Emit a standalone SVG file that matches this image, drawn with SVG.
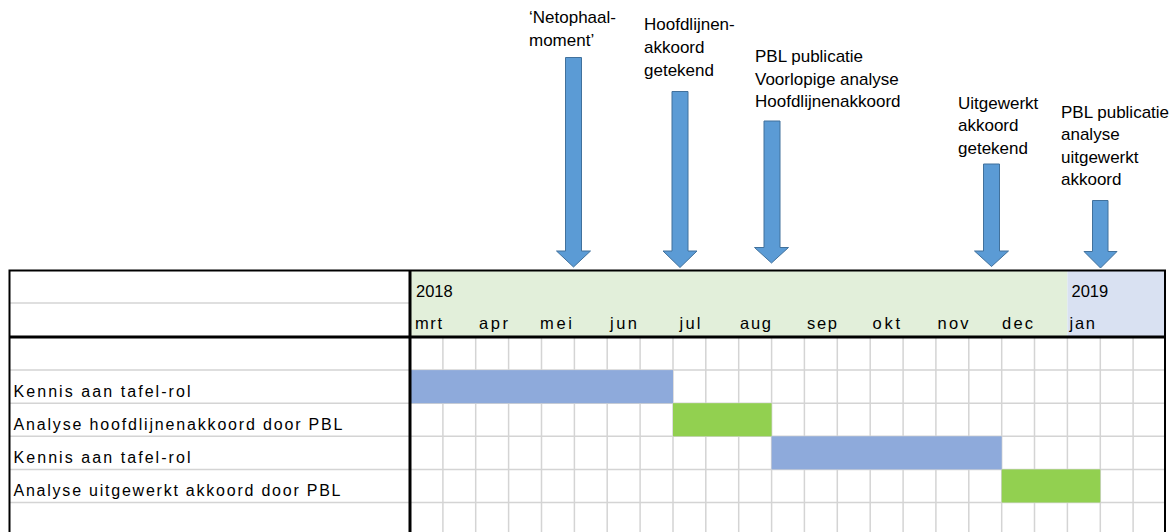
<svg xmlns="http://www.w3.org/2000/svg" width="1173" height="532" viewBox="0 0 1173 532">
<style>
.lbl{font-family:"Liberation Sans",Arial,sans-serif;font-size:17px;fill:#000}
.row{font-family:"Liberation Sans",Arial,sans-serif;font-size:16px;fill:#000}
.hdr{font-family:"Liberation Sans",Arial,sans-serif;font-size:16.5px;fill:#000}
.grid{stroke:#d4d4d4;stroke-width:1.5;fill:none}
.arrow{fill:#5b9bd5;stroke:#41719c;stroke-width:1}
.blue{fill:#8eaadb}
.green{fill:#92d050}
</style>
<rect width="1173" height="532" fill="#fff"/>
<g id="header">
<rect x="410" y="270" width="657.4" height="67" fill="#e2efda"/>
<rect x="1067.4" y="270" width="97.6" height="67" fill="#d9e1f2"/>
<line class="grid" x1="9" y1="303" x2="410" y2="303"/>
<text class="hdr" x="416" y="297">2018</text>
<text class="hdr" x="1071.5" y="297">2019</text>
<text class="hdr" x="415" y="329" textLength="27" lengthAdjust="spacing">mrt</text>
<text class="hdr" x="479" y="329" textLength="29" lengthAdjust="spacing">apr</text>
<text class="hdr" x="540" y="329" textLength="32" lengthAdjust="spacing">mei</text>
<text class="hdr" x="610" y="329" textLength="27" lengthAdjust="spacing">jun</text>
<text class="hdr" x="679.5" y="329" textLength="21" lengthAdjust="spacing">jul</text>
<text class="hdr" x="740" y="329" textLength="31" lengthAdjust="spacing">aug</text>
<text class="hdr" x="807" y="329" textLength="30" lengthAdjust="spacing">sep</text>
<text class="hdr" x="872.5" y="329" textLength="27.5" lengthAdjust="spacing">okt</text>
<text class="hdr" x="937.5" y="329" textLength="31" lengthAdjust="spacing">nov</text>
<text class="hdr" x="1002" y="329" textLength="31" lengthAdjust="spacing">dec</text>
<text class="hdr" x="1069.5" y="329" textLength="25.5" lengthAdjust="spacing">jan</text>
</g>
<g id="grid">
<path class="grid" d="M9 370.1H1165M9 403.2H1165M9 436.3H1165M9 469.4H1165M9 502.5H1165"/>
<path class="grid" d="M442.9 337V532M475.7 337V532M508.6 337V532M541.5 337V532M574.4 337V532M607.2 337V532M640.1 337V532M673 337V532M705.8 337V532M738.7 337V532M771.6 337V532M804.4 337V532M837.3 337V532M870.2 337V532M903.1 337V532M935.9 337V532M968.8 337V532M1001.7 337V532M1034.5 337V532M1067.4 337V532M1100.3 337V532M1133.1 337V532"/>
</g>
<g id="bar-kennis-1"><rect class="blue" x="410" y="370.1" width="263" height="33.1"/></g>
<g id="bar-analyse-hoofdlijnen"><rect class="green" x="673" y="403.2" width="98.6" height="33.1"/></g>
<g id="bar-kennis-2"><rect class="blue" x="771.6" y="436.3" width="230.1" height="33.1"/></g>
<g id="bar-analyse-uitgewerkt"><rect class="green" x="1001.7" y="469.4" width="98.6" height="33.1"/></g>
<g id="row-labels">
<text class="row" x="13.5" y="397" textLength="177" lengthAdjust="spacing">Kennis aan tafel-rol</text>
<text class="row" x="13.5" y="430" textLength="329" lengthAdjust="spacing">Analyse hoofdlijnenakkoord door PBL</text>
<text class="row" x="13.5" y="463" textLength="177" lengthAdjust="spacing">Kennis aan tafel-rol</text>
<text class="row" x="13.5" y="496" textLength="327" lengthAdjust="spacing">Analyse uitgewerkt akkoord door PBL</text>
</g>
<g id="borders" fill="none" stroke="#000">
<path d="M9.5 532V270.5H1165V532" stroke-width="2"/>
<line x1="9" y1="337" x2="1166" y2="337" stroke-width="3"/>
<line x1="410" y1="270" x2="410" y2="532" stroke-width="3"/>
</g>
<g id="connectors">
<path class="arrow" d="M565.5 57.5H581.5V251H590.5L573.5 267L556.5 251H565.5Z"/>
<path class="arrow" d="M672 91.5H688V251H697L680 267.5L663 251H672Z"/>
<path class="arrow" d="M764 121H780V247.5H788.5L771.5 263L754.5 247.5H764Z"/>
<path class="arrow" d="M983.5 164H999.5V251H1008.5L991.5 266.5L974.5 251H983.5Z"/>
<path class="arrow" d="M1092.5 200.5H1108V251.5H1117L1100.5 268L1084 251.5H1092.5Z"/>
</g>
<g id="event-netophaal">
<text class="lbl" x="529" y="23">‘Netophaal-</text>
<text class="lbl" x="529" y="46">moment’</text>
</g>
<g id="event-hoofdlijnen">
<text class="lbl" x="644" y="30">Hoofdlijnen-</text>
<text class="lbl" x="644" y="53">akkoord</text>
<text class="lbl" x="644" y="76">getekend</text>
</g>
<g id="event-pbl-voorlopig">
<text class="lbl" x="755" y="62">PBL publicatie</text>
<text class="lbl" x="755" y="84.5">Voorlopige analyse</text>
<text class="lbl" x="755" y="107">Hoofdlijnenakkoord</text>
</g>
<g id="event-uitgewerkt">
<text class="lbl" x="958" y="108.5">Uitgewerkt</text>
<text class="lbl" x="958" y="131">akkoord</text>
<text class="lbl" x="958" y="153.5">getekend</text>
</g>
<g id="event-pbl-uitgewerkt">
<text class="lbl" x="1061" y="117.5">PBL publicatie</text>
<text class="lbl" x="1061" y="140">analyse</text>
<text class="lbl" x="1061" y="162.5">uitgewerkt</text>
<text class="lbl" x="1061" y="185">akkoord</text>
</g>
</svg>
